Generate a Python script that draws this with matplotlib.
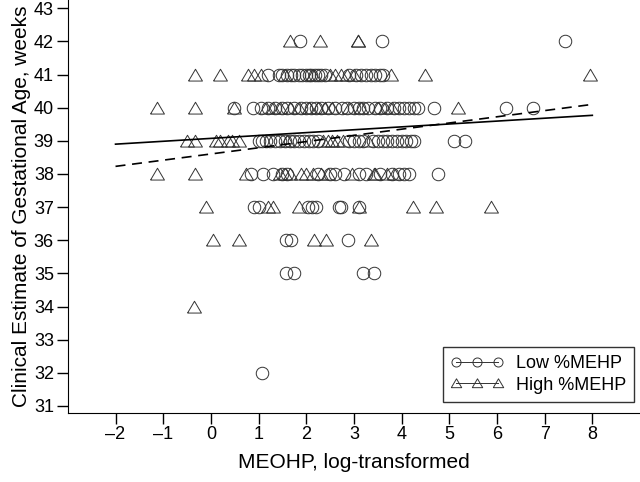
import matplotlib
matplotlib.use("Agg")
import matplotlib.pyplot as plt
from matplotlib.lines import Line2D

plt.rcParams['font.family'] = ['Liberation Sans', 'DejaVu Sans']

# Low %MEHP (circles): x values per gestational week
low = {
    42: [1.87, 3.58, 7.42],
    41: [1.19, 1.42, 1.5, 1.6, 1.68, 1.75, 1.85, 1.92, 2.0, 2.05, 2.1, 2.18, 2.25,
         2.32, 2.4, 2.9, 3.05, 3.15, 3.25, 3.35, 3.45, 3.55, 3.62],
    40: [0.48, 0.88, 1.05, 1.2, 1.35, 1.5, 1.6, 1.75, 1.9, 2.0, 2.1, 2.2, 2.3, 2.45,
         2.6, 2.75, 2.85, 3.0, 3.1, 3.2, 3.3, 3.45, 3.55, 3.7, 3.85, 3.95, 4.05,
         4.15, 4.25, 4.35, 4.68, 6.18, 6.75],
    39: [1.0, 1.08, 1.15, 1.25, 1.35, 1.45, 1.55, 1.65, 1.75, 1.85, 1.95, 2.05, 2.15,
         2.25, 2.9, 3.0, 3.1, 3.2, 3.4, 3.5, 3.6, 3.7, 3.8, 3.9, 4.0, 4.1, 4.2, 4.27,
         5.1, 5.33],
    38: [0.84, 1.09, 1.3, 1.5, 1.6, 2.25, 2.5, 2.6, 2.79, 3.1, 3.25, 3.55, 3.8, 3.95,
         4.05, 4.15, 4.76],
    37: [0.9, 1.0, 2.03, 2.13, 2.2, 2.68, 2.72, 3.1],
    36: [1.57, 1.68, 2.87],
    35: [1.57, 1.74, 3.2, 3.42],
    32: [1.07],
}

# High %MEHP (triangles)
high = {
    42: [1.66, 2.29, 3.08, 3.08],
    41: [-0.34, 0.19, 0.77, 0.9, 1.05, 1.55, 2.15, 2.5, 2.6, 2.72, 2.85, 3.0, 3.77,
         4.49, 7.95],
    40: [-1.13, -0.34, 0.48, 1.15, 1.3, 1.45, 1.65, 1.85, 2.05, 2.25, 2.4, 2.55, 2.9,
         3.15, 3.5, 3.65, 3.8, 5.18],
    39: [-0.5, -0.34, 0.1, 0.2, 0.35, 0.45, 0.6, 1.6, 2.35, 2.45, 2.55, 2.65, 2.78,
         3.3],
    38: [-1.13, -0.34, 0.73, 1.45, 1.55, 1.65, 1.9, 2.0, 2.15, 2.3, 2.45, 2.97, 3.42,
         3.45, 3.7, 3.85],
    37: [-0.1, 1.2, 1.3, 1.85, 3.1, 4.24, 4.72, 5.87],
    36: [0.04, 0.59, 2.16, 2.41, 3.35],
    34: [-0.35],
}

# fitted lines (endpoints)
fit_x = [-2, 8]
fit_low = [38.9, 39.77]
fit_high = [38.23, 40.1]

xticks = list(range(-2, 9))
yticks = list(range(31, 44))

tri = [(-1.0, -0.8), (1.0, -0.8), (0.0, 0.9), (-1.0, -0.8)]
mcol = '#333333'

fig = plt.figure(figsize=(6.4, 4.82), dpi=100)
ax = fig.add_axes([0.106, 0.144, 0.894, 0.856])

lx = [x for k, v in low.items() for x in v]
ly = [k for k, v in low.items() for x in v]
hx = [x for k, v in high.items() for x in v]
hy = [k for k, v in high.items() for x in v]

ax.plot(lx, ly, linestyle='none', marker='o', markersize=9, markerfacecolor='none',
        markeredgecolor=mcol, markeredgewidth=0.7)
ax.plot(hx, hy, linestyle='none', marker=tri, markersize=10, markerfacecolor='none',
        markeredgecolor=mcol, markeredgewidth=0.7)

ax.plot(fit_x, fit_low, color='black', linewidth=1.2)
ax.plot(fit_x, fit_high, color='black', linewidth=1.2, dashes=(6, 4))

ax.set_xlim(-3, 9)
ax.set_ylim(30.8, 43.25)
ax.set_xticks(xticks)
ax.set_yticks(yticks)
ax.set_xticklabels([str(t).replace('-', '\u2013') for t in xticks])
ax.spines['top'].set_visible(False)
ax.spines['right'].set_visible(False)
ax.tick_params(direction='out', length=8, width=1, labelsize=13, pad=2)
ax.set_xlabel('MEOHP, log-transformed', fontsize=15, labelpad=7)
ax.set_ylabel('Clinical Estimate of Gestational Age, weeks', fontsize=15, labelpad=2)

handles = [
    Line2D([], [], color=mcol, linewidth=0.7, marker='o', markersize=6.5,
           markerfacecolor='none', markeredgecolor=mcol, markeredgewidth=0.7),
    Line2D([], [], color=mcol, linewidth=0.7, marker=tri, markersize=7.5,
           markerfacecolor='none', markeredgecolor=mcol, markeredgewidth=0.7),
]
leg = ax.legend(handles, ['Low %MEHP', 'High %MEHP'], loc='lower right',
                bbox_to_anchor=(0.99, 0.026), borderaxespad=0, numpoints=3,
                handlelength=2.9, fontsize=13, frameon=True, fancybox=False,
                borderpad=0.45, labelspacing=0.25, handletextpad=0.7)
leg.get_frame().set_edgecolor('black')
leg.get_frame().set_linewidth(1.0)

fig.savefig('out.png', dpi=100)
